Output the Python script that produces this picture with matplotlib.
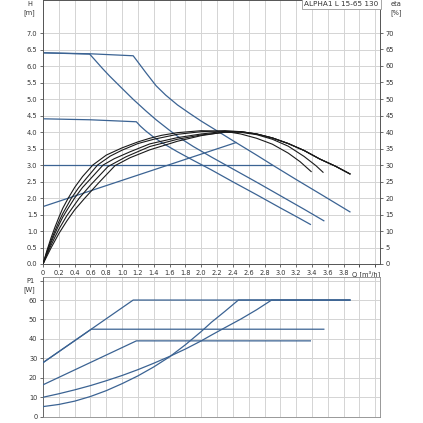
import matplotlib
matplotlib.use("Agg")
import matplotlib.pyplot as plt

# --- data ---
# pump curves H(Q), Q in m3/h, H in m
q_max = [0, 0.6, 1.14, 1.2, 1.3, 1.43, 1.55, 1.7, 1.85, 2.0, 2.19, 2.44, 2.7, 2.9, 3.2, 3.5, 3.88]
h_max = [6.40, 6.37, 6.31, 6.12, 5.80, 5.40, 5.12, 4.82, 4.57, 4.33, 4.05, 3.68, 3.30, 3.0, 2.56, 2.13, 1.58]
q_mid = [0, 0.3, 0.59, 0.65, 0.75, 0.84, 1.0, 1.14, 1.3, 1.43, 1.6, 1.73, 1.9, 2.13, 2.4, 2.7, 3.0, 3.3, 3.55]
h_mid = [6.40, 6.38, 6.36, 6.20, 5.93, 5.70, 5.32, 4.99, 4.64, 4.37, 4.05, 3.82, 3.56, 3.24, 2.88, 2.48, 2.07, 1.66, 1.31]
q_low = [0, 0.6, 1.18, 1.23, 1.3, 1.39, 1.5, 1.7, 1.9, 2.13, 2.4, 2.7, 3.0, 3.2, 3.38]
h_low = [4.40, 4.37, 4.31, 4.18, 4.03, 3.86, 3.68, 3.40, 3.14, 2.85, 2.49, 2.10, 1.70, 1.44, 1.20]
q_cp = [0, 2.9]
h_cp = [3.0, 3.0]
q_pp = [0, 2.44]
h_pp = [1.74, 3.68]

# efficiency curves, eta in %
eta_q = [
    [0, 0.05, 0.1, 0.15, 0.2, 0.25, 0.32, 0.4, 0.5, 0.63, 0.8, 1.0, 1.2, 1.35, 1.5, 1.7, 2.0, 2.3,
     2.5, 2.7, 2.9, 3.1, 3.25, 3.39],
    [0, 0.05, 0.1, 0.15, 0.2, 0.25, 0.36, 0.45, 0.55, 0.69, 0.85, 1.0, 1.2, 1.4, 1.7, 2.0, 2.3,
     2.5, 2.7, 2.9, 3.1, 3.3, 3.5, 3.7, 3.88],
    [0, 0.05, 0.1, 0.15, 0.2, 0.25, 0.3, 0.4, 0.5, 0.6, 0.76, 0.9, 1.1, 1.35, 1.7, 2.0, 2.3,
     2.5, 2.7, 2.9, 3.1, 3.3, 3.5, 3.7, 3.88],
    [0, 0.05, 0.1, 0.15, 0.2, 0.3, 0.46, 0.6, 0.82, 1.05, 1.35, 1.7, 2.0, 2.3,
     2.5, 2.7, 2.9, 3.1, 3.3, 3.45, 3.54],
    [0, 0.05, 0.1, 0.15, 0.2, 0.3, 0.4, 0.53, 0.7, 0.91, 1.1, 1.35, 1.7, 2.0, 2.3,
     2.5, 2.7, 2.9, 3.1, 3.3, 3.5, 3.7, 3.88],
]
eta_v = [
    [0, 4.1, 7.8, 11.1, 14.1, 16.9, 20, 23.2, 26.5, 30, 33, 35.2, 37, 38.1, 39, 39.8, 40.4, 40.2,
     39.4, 38.1, 36.3, 33.6, 31.0, 28.0],
    [0, 3.7, 7.0, 10, 12.8, 15.3, 20, 23.1, 26, 30, 32.7, 34.5, 36.5, 37.8, 39.3, 40.1, 40.4,
     40.1, 39.4, 38.2, 36.5, 34.4, 31.8, 29.6, 27.3],
    [0, 3.3, 6.4, 9.2, 11.8, 14.2, 16.2, 20, 23.2, 25.8, 30, 31.9, 34.0, 36.4, 38.3, 39.4, 40.2,
     40.1, 39.4, 38.2, 36.5, 34.4, 31.8, 29.6, 27.3],
    [0, 2.9, 5.6, 8.1, 10.5, 14.6, 20, 23.9, 29.5, 32.5, 35.6, 37.8, 39.1, 39.9,
     39.9, 39.2, 37.8, 35.7, 32.6, 29.8, 27.8],
    [0, 2.4, 4.8, 7.0, 9.2, 13, 16.4, 20, 24.5, 29.8, 32.2, 34.6, 37.2, 38.9, 40.0,
     40.1, 39.4, 38.2, 36.5, 34.4, 31.8, 29.6, 27.3],
]

# power curves P1(Q), W
p_q_max = [0, 1.14, 3.88]
p_max = [27.8, 60, 60]
p_q_mid = [0, 0.61, 3.55]
p_mid = [27.8, 45, 45]
p_q_low = [0, 1.18, 3.38]
p_low = [16.4, 39, 39]
p_q_cp = [0, 0.2, 0.4, 0.6, 0.8, 1.0, 1.2, 1.4, 1.6, 1.8, 2.0, 2.13, 2.3, 2.5, 2.7, 2.89, 3.88]
p_cp = [10, 11.8, 13.8, 16.0, 18.5, 21.2, 24.2, 27.5, 31.0, 34.8, 39.0, 42.0, 45.8, 50.2, 55.0, 60, 60]
p_q_pp = [0, 0.2, 0.4, 0.6, 0.8, 1.0, 1.2, 1.4, 1.6, 1.8, 2.0, 2.13, 2.3, 2.47, 3.88]
p_pp = [5.2, 6.3, 8.0, 10.4, 13.4, 17.0, 21.0, 25.6, 30.8, 37.0, 43.8, 48.6, 54.2, 60, 60]

q_ticks = [round(0.2 * i, 1) for i in range(20)]
q_labels = ["0"] + ["%.1f" % t for t in q_ticks[1:]]

blue = "#3b6393"
black = "#1a1a1a"
grid_c = "#d4d4d4"
txt_c = "#333333"
fs = 4.8

fig = plt.figure(figsize=(4.23, 4.23), dpi=100)

# top: H and eta
ax = fig.add_axes([43 / 423, 1 - 264 / 423, 337 / 423, 264 / 423])
for q, h in [(q_max, h_max), (q_mid, h_mid), (q_low, h_low), (q_cp, h_cp), (q_pp, h_pp)]:
    ax.plot(q, h, color=blue, lw=0.9, zorder=3)
ax.set_xlim(0, 4.26)
ax.set_ylim(0, 8)
ax.set_xticks(q_ticks)
ax.set_xticklabels(q_labels)
ax.set_xticks([4.0, 4.2], minor=True)
ax.set_yticks([i * 0.5 for i in range(15)])
ax.set_yticklabels(["%.1f" % (i * 0.5) for i in range(15)])
ax.grid(True, which="both", color=grid_c, lw=0.7)
ax.set_axisbelow(True)
ax.tick_params(labelsize=fs, length=2.5, width=0.5, pad=1.5, colors=txt_c)
ax.tick_params(which="minor", length=2.5, width=0.5)
ax.text(3.9, -0.2, "Q [m³/h]", fontsize=fs, color=txt_c, ha="left", va="top")

ax2 = ax.twinx()
for q, e in zip(eta_q, eta_v):
    ax2.plot(q, e, color=black, lw=0.8, zorder=3)
ax2.set_ylim(0, 80)
ax2.set_yticks(range(0, 75, 5))
ax2.tick_params(labelsize=fs, length=2.5, width=0.5, pad=1.5, colors=txt_c)
ax2.text(0.995, 0.997, "ALPHA1 L 15-65 130", transform=ax2.transAxes, fontsize=5.2,
         ha="right", va="top", color=txt_c,
         bbox=dict(boxstyle="square,pad=0.35", facecolor="white", edgecolor="#999999", lw=0.6))
for a in (ax, ax2):
    for s in a.spines.values():
        s.set_color("#555555")
        s.set_linewidth(0.6)

fig.text(30 / 423, 1 - 4 / 423, "H", fontsize=fs, color=txt_c, ha="center", va="center")
fig.text(29 / 423, 1 - 13 / 423, "[m]", fontsize=fs, color=txt_c, ha="center", va="center")
fig.text(396 / 423, 1 - 4 / 423, "eta", fontsize=fs, color=txt_c, ha="center", va="center")
fig.text(396 / 423, 1 - 13 / 423, "[%]", fontsize=fs, color=txt_c, ha="center", va="center")

# bottom: P1
bx = fig.add_axes([43 / 423, 1 - 416.7 / 423, 337 / 423, 139.4 / 423])
for q, p in [(p_q_max, p_max), (p_q_mid, p_mid), (p_q_low, p_low), (p_q_cp, p_cp), (p_q_pp, p_pp)]:
    bx.plot(q, p, color=blue, lw=0.9, zorder=3)
bx.set_xlim(0, 4.26)
bx.set_ylim(0, 71.7)
bx.set_xticks([0.2 * i for i in range(22)])
bx.set_xticklabels([])
bx.set_yticks(range(0, 80, 10))
bx.set_yticklabels([str(v) if v <= 60 else "" for v in range(0, 80, 10)])
bx.grid(True, color=grid_c, lw=0.7)
bx.set_axisbelow(True)
bx.tick_params(axis="x", length=0)
bx.tick_params(axis="y", labelsize=fs, length=2.5, width=0.5, pad=1.5, colors=txt_c)
for name, s in bx.spines.items():
    s.set_color("#555555" if name == "left" else "#888888")
    s.set_linewidth(0.6)
fig.text(30 / 423, 1 - 281 / 423, "P1", fontsize=fs, color=txt_c, ha="center", va="center")
fig.text(29 / 423, 1 - 290 / 423, "[W]", fontsize=fs, color=txt_c, ha="center", va="center")

fig.savefig("out.png", dpi=100)
